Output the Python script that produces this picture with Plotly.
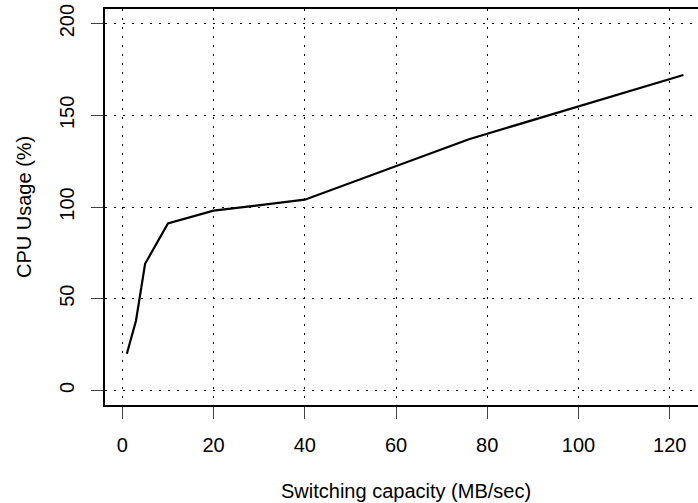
import plotly.graph_objects as go

# Switching capacity (MB/sec) vs CPU usage (%)
switching_mb_s = [1, 3, 5, 10, 20, 40, 76, 100, 123]
cpu_usage_pct = [20, 38, 69, 91, 98, 104, 137, 155, 172]

x_ticks = [0, 20, 40, 60, 80, 100, 120]
y_ticks = [0, 50, 100, 150, 200]

FONT = "Liberation Sans, Arial, Helvetica, sans-serif"
FS = 20

fig = go.Figure()
fig.add_trace(go.Scatter(
    x=switching_mb_s, y=cpu_usage_pct, mode="lines",
    line=dict(color="black", width=2.2),
    showlegend=False, hoverinfo="skip",
))

grid_style = dict(
    showgrid=True, gridcolor="black", gridwidth=1.4,
    griddash="1.5px,7.5px", zeroline=False,
    ticks="outside", ticklen=12, tickwidth=1, tickcolor="#444",
    showline=True, linecolor="black", linewidth=2,
    tickfont=dict(family=FONT, size=FS, color="black"),
)

fig.update_xaxes(
    range=[-3.79, 126.2], tickvals=x_ticks, mirror=True,
    ticklabelstandoff=9, **grid_style,
)
fig.update_yaxes(
    range=[-8, 208], tickvals=y_ticks, tickangle=-90,
    ticklabelstandoff=9, **grid_style,
)

fig.add_annotation(
    text="Switching capacity (MB/sec)", xref="paper", yref="paper",
    x=0.5076, y=0, xanchor="center", yanchor="middle", yshift=-86,
    showarrow=False, font=dict(family=FONT, size=FS, color="black"),
)
fig.add_annotation(
    text="CPU Usage (%)", xref="paper", yref="paper",
    x=0, y=0.5, xanchor="center", yanchor="middle", xshift=-81,
    textangle=-90, showarrow=False,
    font=dict(family=FONT, size=FS, color="black"),
)

fig.update_layout(
    width=698, height=503,
    margin=dict(l=105, r=0, t=9, b=98),
    paper_bgcolor="white", plot_bgcolor="white",
    font=dict(family=FONT, size=FS, color="black"),
)

fig.write_html("out.html")
